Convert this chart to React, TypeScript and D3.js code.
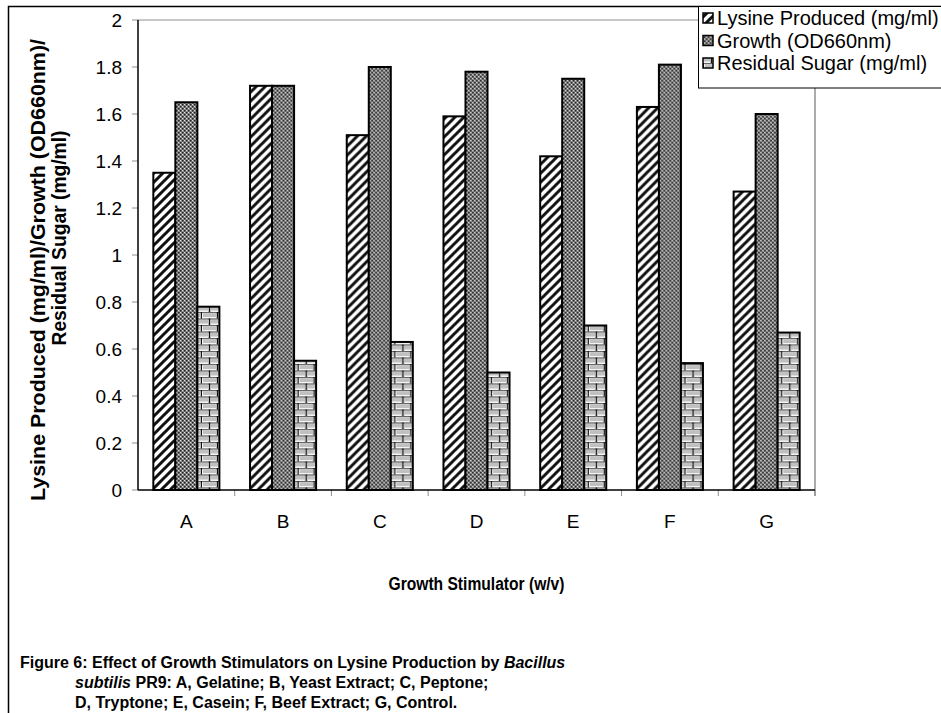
import React from 'react';
import * as d3 from 'd3';

const categories = ['A', 'B', 'C', 'D', 'E', 'F', 'G'];
const seriesNames = ['Lysine Produced (mg/ml)', 'Growth (OD660nm)', 'Residual Sugar (mg/ml)'];
const lysine = [1.35, 1.72, 1.51, 1.59, 1.42, 1.63, 1.27];
const growth = [1.65, 1.72, 1.8, 1.78, 1.75, 1.81, 1.6];
const sugar = [0.78, 0.55, 0.63, 0.5, 0.7, 0.54, 0.67];
const yTicks = [0, 0.2, 0.4, 0.6, 0.8, 1, 1.2, 1.4, 1.6, 1.8, 2];
const xTitle = 'Growth Stimulator (w/v)';
const yTitle1 = 'Lysine Produced (mg/ml)/Growth (OD660nm)/';
const yTitle2 = 'Residual Sugar (mg/ml)';

const FONT = '"Liberation Sans", Arial, sans-serif';
const W = 941;
const H = 713;
const plot = { left: 138, right: 815, top: 20, bottom: 490 };
const patternIds = ['pStripe', 'pDots', 'pBrick'];

export default function App() {
  const x = d3.scaleBand<string>().domain(categories).range([plot.left, plot.right]).padding(0);
  const bw = x.bandwidth();
  const groupW = bw * 0.683;
  const xInner = d3
    .scaleBand<string>()
    .domain(seriesNames)
    .range([(bw - groupW) / 2, (bw + groupW) / 2])
    .padding(0);
  const y = d3.scaleLinear().domain([0, 2]).range([plot.bottom, plot.top]);
  const series = [lysine, growth, sugar];

  return (
    <svg
      width={W}
      height={H}
      style={{ position: 'absolute', left: 0, top: 0, background: '#fff' }}
      fontFamily={FONT}
    >
      <defs>
        <pattern id="pStripe" patternUnits="userSpaceOnUse" width={9} height={9}>
          <rect width={9} height={9} fill="#fff" />
          <path d="M-3,3 L3,-3 M0,9 L9,0 M6,12 L12,6" stroke="#111" strokeWidth={3} />
        </pattern>
        <pattern id="pDots" patternUnits="userSpaceOnUse" width={4} height={4}>
          <rect width={4} height={4} fill="#8c8c8c" />
          <rect x={0} y={0} width={1.5} height={1.5} fill="#222" />
          <rect x={2} y={2} width={1.5} height={1.5} fill="#222" />
          <rect x={2} y={0} width={1} height={1} fill="#e0e0e0" />
          <rect x={0} y={2} width={1} height={1} fill="#e0e0e0" />
        </pattern>
        <pattern id="pBrick" patternUnits="userSpaceOnUse" width={16} height={13}>
          <rect width={16} height={13} fill="#f4f4f4" />
          <rect x={1} y={1.5} width={13} height={3.5} fill="#c0c0c0" />
          <rect x={9} y={8} width={13} height={3.5} fill="#c0c0c0" />
          <rect x={-7} y={8} width={13} height={3.5} fill="#c0c0c0" />
          <line x1={0} x2={16} y1={0.5} y2={0.5} stroke="#666" strokeWidth={1.3} />
          <line x1={0} x2={16} y1={7} y2={7} stroke="#666" strokeWidth={1.3} />
          <line x1={15.5} x2={15.5} y1={0} y2={6.5} stroke="#111" strokeWidth={1.5} />
          <line x1={7.5} x2={7.5} y1={6.5} y2={13} stroke="#111" strokeWidth={1.5} />
        </pattern>
      </defs>

      {/* outer frame */}
      <rect x={8.5} y={6.5} width={1000} height={800} fill="none" stroke="#000" strokeWidth={1.5} />

      {/* plot area border (gray) */}
      <line x1={plot.left} x2={plot.right} y1={plot.top} y2={plot.top} stroke="#909090" strokeWidth={1} />
      <line x1={plot.right} x2={plot.right} y1={plot.top} y2={plot.bottom + 6} stroke="#909090" strokeWidth={1.5} />

      {/* y ticks */}
      {yTicks.map((t) => (
        <g key={t}>
          <line x1={plot.left - 6} x2={plot.left} y1={y(t)} y2={y(t)} stroke="#909090" strokeWidth={1} />
          <text x={plot.left - 16} y={y(t)} dy="0.35em" textAnchor="end" fontSize={19}>
            {d3.format('~g')(t)}
          </text>
        </g>
      ))}

      {/* bars */}
      {categories.map((c, i) => (
        <g key={c} transform={`translate(${x(c)},0)`}>
          {series.map((s, j) => (
            <rect
              key={j}
              x={xInner(seriesNames[j])}
              y={y(s[i])}
              width={xInner.bandwidth()}
              height={y(0) - y(s[i])}
              fill={`url(#${patternIds[j]})`}
              stroke="#000"
              strokeWidth={2}
            />
          ))}
        </g>
      ))}

      {/* x ticks */}
      {categories.map((c) => (
        <line
          key={'t' + c}
          x1={(x(c) as number) + bw}
          x2={(x(c) as number) + bw}
          y1={plot.bottom}
          y2={plot.bottom + 6}
          stroke="#909090"
          strokeWidth={1}
        />
      ))}
      {categories.map((c) => (
        <text key={'l' + c} x={(x(c) as number) + bw / 2} y={528} textAnchor="middle" fontSize={19}>
          {c}
        </text>
      ))}

      {/* axes */}
      <line x1={plot.left} x2={plot.left} y1={plot.top} y2={plot.bottom} stroke="#000" strokeWidth={1.5} />
      <line x1={plot.left} x2={plot.right} y1={plot.bottom} y2={plot.bottom} stroke="#000" strokeWidth={1.5} />

      {/* axis titles */}
      <text
        x={(plot.left + plot.right) / 2}
        y={590}
        textAnchor="middle"
        fontSize={18}
        fontWeight="bold"
        textLength={176}
        lengthAdjust="spacingAndGlyphs"
      >
        {xTitle}
      </text>
      <text
        transform="translate(45,270) rotate(-90)"
        textAnchor="middle"
        fontSize={20}
        fontWeight="bold"
        textLength={462}
        lengthAdjust="spacingAndGlyphs"
      >
        {yTitle1}
      </text>
      <text
        transform="translate(66,238) rotate(-90)"
        textAnchor="middle"
        fontSize={20}
        fontWeight="bold"
        textLength={215}
        lengthAdjust="spacingAndGlyphs"
      >
        {yTitle2}
      </text>

      {/* legend */}
      <rect x={698.5} y={6.5} width={260} height={81.5} fill="#fff" stroke="#000" strokeWidth={1} />
      {seriesNames.map((n, j) => (
        <g key={n} transform={`translate(0,${18 + j * 22.5})`}>
          <rect x={703} y={-5} width={10} height={10} fill={`url(#${patternIds[j]})`} stroke="#000" strokeWidth={1.5} />
          <text x={717} y={0} dy="0.35em" fontSize={20}>
            {n}
          </text>
        </g>
      ))}

      {/* caption */}
      <text x={20} y={668} fontSize={16} fontWeight="bold">
        Figure 6: Effect of Growth Stimulators on Lysine Production by <tspan fontStyle="italic">Bacillus</tspan>
      </text>
      <text x={75} y={688} fontSize={16} fontWeight="bold">
        <tspan fontStyle="italic">subtilis</tspan> PR9: A, Gelatine; B, Yeast Extract; C, Peptone;
      </text>
      <text x={75} y={708} fontSize={16} fontWeight="bold">
        D, Tryptone; E, Casein; F, Beef Extract; G, Control.
      </text>
    </svg>
  );
}
